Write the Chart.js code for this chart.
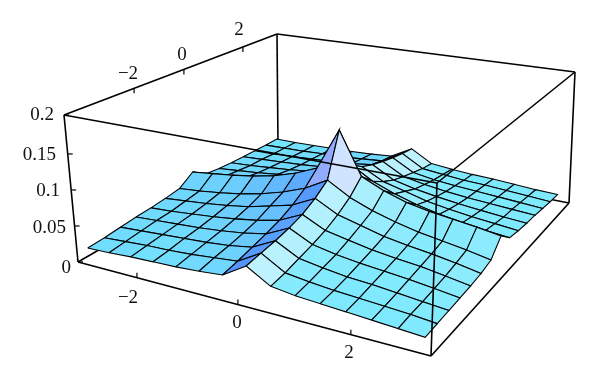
<!DOCTYPE html>
<html>
<head>
<meta charset="utf-8">
<style>
  html, body { margin: 0; padding: 0; background: #fff; }
  canvas { display: block; }
</style>
<script src="https://cdn.jsdelivr.net/npm/chart.js@4"></script>
</head>
<body>
<canvas id="myChart" width="600" height="382"></canvas>
<script>
// surface samples, x runs left to right, y runs front to back
var gridX = [-3.2, -2.743, -2.286, -1.829, -1.371, -0.914, -0.457, 0, 0.443, 0.886, 1.329, 1.771, 2.214, 2.657, 3.1];
var gridY = [-3.1, -2.657, -2.214, -1.771, -1.329, -0.886, -0.443, 0, 0.443, 0.886, 1.329, 1.771, 2.214, 2.657, 3.1];
var heights = [
  [.015, .016, .018, .019, .020, .022, .025, .044, .026, .022, .020, .018, .016, .014, .012],
  [.016, .018, .020, .021, .023, .026, .029, .047, .029, .025, .022, .020, .018, .016, .013],
  [.018, .020, .022, .024, .026, .029, .034, .050, .034, .029, .025, .023, .020, .017, .014],
  [.020, .022, .024, .026, .029, .033, .039, .054, .039, .033, .029, .026, .023, .019, .015],
  [.021, .023, .026, .029, .033, .038, .045, .060, .045, .039, .033, .029, .026, .021, .016],
  [.023, .026, .029, .033, .038, .046, .054, .070, .054, .046, .038, .033, .029, .024, .018],
  [.026, .029, .033, .038, .045, .054, .066, .084, .066, .054, .045, .038, .033, .028, .022],
  [.040, .044, .048, .053, .060, .070, .084, .145, .084, .070, .060, .054, .050, .046, .041],
  [.026, .029, .033, .038, .045, .054, .066, .084, .066, .054, .045, .038, .033, .029, .026],
  [.023, .026, .029, .033, .038, .046, .054, .070, .054, .046, .038, .033, .029, .026, .023],
  [.021, .023, .026, .029, .033, .038, .045, .062, .045, .038, .033, .029, .026, .023, .021],
  [.020, .022, .024, .026, .029, .033, .039, .056, .039, .033, .029, .026, .024, .022, .020],
  [.019, .020, .022, .024, .026, .029, .034, .051, .034, .029, .026, .024, .022, .020, .018],
  [.018, .019, .020, .022, .023, .026, .029, .047, .029, .026, .023, .022, .020, .018, .016],
  [.018, .018, .019, .020, .021, .023, .026, .044, .026, .023, .021, .020, .018, .016, .015]
];
var xTicks = ["\u22122", "0", "2"];
var yTicks = ["\u22122", "0", "2"];
var zTicks = ["0", "0.05", "0.1", "0.15", "0.2"];

// box corners on screen: left, front, right, back
var baseQuad = [[78, 262], [431, 356], [569, 203], [278, 146]];
var topQuad = [[64, 115], [437, 183], [575, 72], [277, 34]];
var R = 3.28, ZMAX = 0.2;

// unit square -> quad
function homography(q) {
  var dx1 = q[1][0] - q[2][0], dx2 = q[3][0] - q[2][0], sx = q[0][0] - q[1][0] + q[2][0] - q[3][0];
  var dy1 = q[1][1] - q[2][1], dy2 = q[3][1] - q[2][1], sy = q[0][1] - q[1][1] + q[2][1] - q[3][1];
  var det = dx1 * dy2 - dx2 * dy1;
  var g = (sx * dy2 - dx2 * sy) / det, h = (dx1 * sy - sx * dy1) / det;
  return function (u, v) {
    var w = g * u + h * v + 1;
    return [
      (q[1][0] - q[0][0] + g * q[1][0]) * u / w + (q[3][0] - q[0][0] + h * q[3][0]) * v / w + q[0][0] / w,
      (q[1][1] - q[0][1] + g * q[1][1]) * u / w + (q[3][1] - q[0][1] + h * q[3][1]) * v / w + q[0][1] / w
    ];
  };
}
var baseMap = homography(baseQuad), topMap = homography(topQuad);

function project(x, y, z) {
  var u = (x + R) / (2 * R), v = (y + R) / (2 * R), t = z / ZMAX;
  var a = baseMap(u, v), b = topMap(u, v);
  return { x: a[0] + (b[0] - a[0]) * t, y: a[1] + (b[1] - a[1]) * t };
}

function mix(a, b, t) {
  return [0, 1, 2].map(function (i) { return Math.round(a[i] + (b[i] - a[i]) * t); });
}

// colour from the slope along x: rising side goes blue, falling side goes white,
// and the cells round the peak wash out a bit
function quadColor(c, r) {
  var dx = gridX[c + 1] - gridX[c];
  var fx = (heights[r][c + 1] + heights[r + 1][c + 1] - heights[r][c] - heights[r + 1][c]) / (2 * dx);
  var mean = (heights[r][c] + heights[r][c + 1] + heights[r + 1][c] + heights[r + 1][c + 1]) / 4;
  var cyan = [118, 232, 253], col;
  if (fx > 0) col = mix(cyan, [60, 90, 255], Math.pow(Math.min(1, fx / 0.075), 0.85));
  else col = mix(cyan, [240, 249, 255], Math.min(1, -fx / 0.07));
  if (mean > 0.07) col = mix(col, [190, 215, 255], Math.min(0.65, (mean - 0.07) / 0.03));
  return 'rgb(' + col.join(',') + ')';
}

function lineSet(points, width) {
  return {
    data: points, showLine: true, fill: false, borderColor: '#000', borderWidth: width || 1.6,
    pointRadius: 0, tension: 0
  };
}

function edge(a, b) { return [{ x: a[0], y: a[1] }, { x: b[0], y: b[1] }]; }

var datasets = [];
var L = 0, F = 1, RT = 2, B = 3;

// first dataset ends up on top, so: front box lines, ticks, surface, back lines
datasets.push(lineSet(edge(topQuad[L], baseQuad[L])));
datasets.push(lineSet(edge(topQuad[L], topQuad[F])));
datasets.push(lineSet(edge(topQuad[F], topQuad[RT])));
datasets.push(lineSet(edge(topQuad[F], baseQuad[F])));
datasets.push(lineSet(edge(topQuad[RT], baseQuad[RT])));
datasets.push(lineSet(edge(baseQuad[L], baseQuad[F])));
datasets.push(lineSet(edge(baseQuad[F], baseQuad[RT])));

// tick marks, fractions measured along each box edge
var frontFrac = [0.167, 0.453, 0.773];
var backFrac = [0.329, 0.563, 0.84];
var zFrac = [0, 0.245, 0.49, 0.735, 1];
frontFrac.forEach(function (f) {
  var px = baseQuad[L][0] + (baseQuad[F][0] - baseQuad[L][0]) * f;
  var py = baseQuad[L][1] + (baseQuad[F][1] - baseQuad[L][1]) * f;
  datasets.push(lineSet(edge([px, py], [px, py - 5]), 1.2));
});
backFrac.forEach(function (f) {
  var px = topQuad[L][0] + (topQuad[B][0] - topQuad[L][0]) * f;
  var py = topQuad[L][1] + (topQuad[B][1] - topQuad[L][1]) * f;
  datasets.push(lineSet(edge([px, py], [px, py + 5]), 1.2));
});
zFrac.forEach(function (f) {
  var px = baseQuad[L][0] + (topQuad[L][0] - baseQuad[L][0]) * f;
  var py = baseQuad[L][1] + (topQuad[L][1] - baseQuad[L][1]) * f;
  datasets.push(lineSet(edge([px, py], [px + 5, py]), 1.2));
});

// surface cells, nearest the camera first (camera sits at +x, -y)
var cells = [];
for (var r = 0; r < gridY.length - 1; r++) {
  for (var c = 0; c < gridX.length - 1; c++) {
    cells.push({ r: r, c: c, d: c - r });
  }
}
cells.sort(function (a, b) { return b.d - a.d; });
cells.forEach(function (cell) {
  var r = cell.r, c = cell.c;
  var pts = [
    project(gridX[c], gridY[r], heights[r][c]),
    project(gridX[c + 1], gridY[r], heights[r][c + 1]),
    project(gridX[c + 1], gridY[r + 1], heights[r + 1][c + 1]),
    project(gridX[c], gridY[r + 1], heights[r + 1][c]),
    project(gridX[c], gridY[r], heights[r][c])
  ];
  datasets.push({
    data: pts, showLine: true, fill: 'shape', backgroundColor: quadColor(c, r),
    borderColor: '#000', borderWidth: 1.1, pointRadius: 0, tension: 0
  });
});

datasets.push(lineSet(edge(topQuad[L], topQuad[B])));
datasets.push(lineSet(edge(topQuad[B], topQuad[RT])));
datasets.push(lineSet(edge(topQuad[B], baseQuad[B])));
datasets.push(lineSet(edge(baseQuad[L], baseQuad[B])));
datasets.push(lineSet(edge(baseQuad[RT], baseQuad[B])));

// the text along the box edges
var boxLabels = {
  id: 'boxLabels',
  afterDatasetsDraw: function (chart) {
    var ctx = chart.ctx, sx = chart.scales.x, sy = chart.scales.y;
    function put(text, x, y, align) {
      ctx.textAlign = align;
      ctx.fillText(text, sx.getPixelForValue(x), sy.getPixelForValue(y));
    }
    ctx.save();
    ctx.fillStyle = '#111';
    ctx.font = '19px "Liberation Serif"';
    ctx.textBaseline = 'middle';
    var fx = [[128, 298], [237, 323], [349, 353]];
    var bx = [[128, 74], [182, 55], [239, 30]];
    var zx = [[71, 268], [66, 228], [60, 191], [56, 155], [54, 115]];
    xTicks.forEach(function (t, i) { put(t, fx[i][0], fx[i][1], 'center'); });
    yTicks.forEach(function (t, i) { put(t, bx[i][0], bx[i][1], 'center'); });
    zTicks.forEach(function (t, i) { put(t, zx[i][0], zx[i][1], 'right'); });
    ctx.restore();
  }
};

var ctx = document.getElementById('myChart').getContext('2d');
var chart = new Chart(ctx, {
  type: 'scatter',
  data: { datasets: datasets },
  options: {
    responsive: false,
    animation: false,
    layout: { padding: 0 },
    plugins: { legend: { display: false }, tooltip: { enabled: false } },
    scales: {
      x: { type: 'linear', min: 0, max: 600, display: false },
      y: { type: 'linear', min: 0, max: 382, reverse: true, display: false }
    }
  },
  plugins: [boxLabels]
});
</script>
</body>
</html>
